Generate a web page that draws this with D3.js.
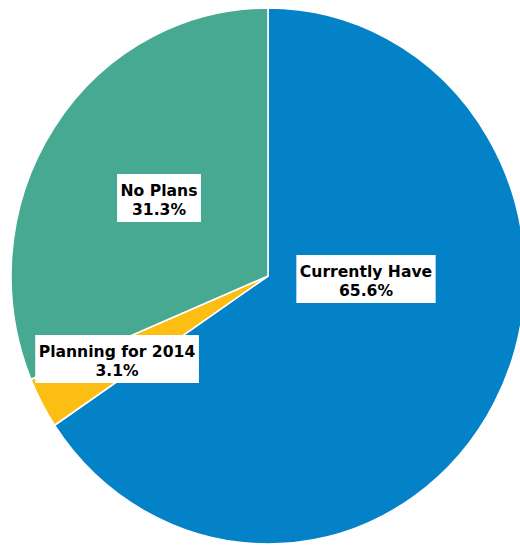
<!DOCTYPE html>
<html>
<head>
<meta charset="utf-8">
<script src="https://cdn.jsdelivr.net/npm/d3@7"></script>
<style>
  html, body { margin: 0; padding: 0; background: #fff; }
  svg { display: block; }
  .lbl text { font-family: "DejaVu Sans", sans-serif; font-weight: bold; font-size: 15.6px; fill: #000; }
</style>
</head>
<body>
<div id="chart"></div>
<script>
// data, clockwise from 12 o'clock
const categories = ['Currently Have', 'Planning for 2014', 'No Plans']
const shares = [65.6, 3.1, 31.3]
const colors = ['#0382C7', '#FDBE14', '#47A992']

// where each label sits, relative to pie centre (px)
const labelSpots = [[98, 3], [-151, 83], [-109, -78]]

const width = 520
const height = 546
const cx = 268, cy = 276
const rx = 257, ry = 268   // the original picture is slightly squashed

const svg = d3.select('#chart').append('svg')
    .attr('width', width)
    .attr('height', height)

const pie = d3.pie().sort(null).value(d => d)
const arcs = pie(shares)

const arc = d3.arc().innerRadius(0).outerRadius(ry)

const g = svg.append('g')
    .attr('transform', 'translate(' + cx + ',' + cy + ') scale(' + (rx / ry) + ',1)')

g.selectAll('path')
    .data(arcs)
  .enter().append('path')
    .attr('d', arc)
    .attr('fill', (d, i) => colors[i])
    .attr('stroke', '#fff')
    .attr('stroke-width', 1.6)
    .attr('vector-effect', 'non-scaling-stroke')

const lbl = svg.selectAll('.lbl')
    .data(arcs)
  .enter().append('g')
    .attr('class', 'lbl')
    .attr('transform', (d, i) => 'translate(' + (cx + labelSpots[i][0]) + ',' + (cy + labelSpots[i][1]) + ')')

const box = lbl.append('rect').attr('fill', '#fff')

const txt = lbl.append('text').attr('text-anchor', 'middle')
txt.append('tspan').attr('x', 0).attr('y', -2).text((d, i) => categories[i])
txt.append('tspan').attr('x', 0).attr('y', 17).text(d => d.value.toFixed(1) + '%')

lbl.each(function () {
  const t = d3.select(this).select('text').node().getBBox()
  d3.select(this).select('rect')
      .attr('x', t.x - 3.5)
      .attr('y', -24)
      .attr('width', t.width + 7)
      .attr('height', 48)
})
</script>
</body>
</html>
